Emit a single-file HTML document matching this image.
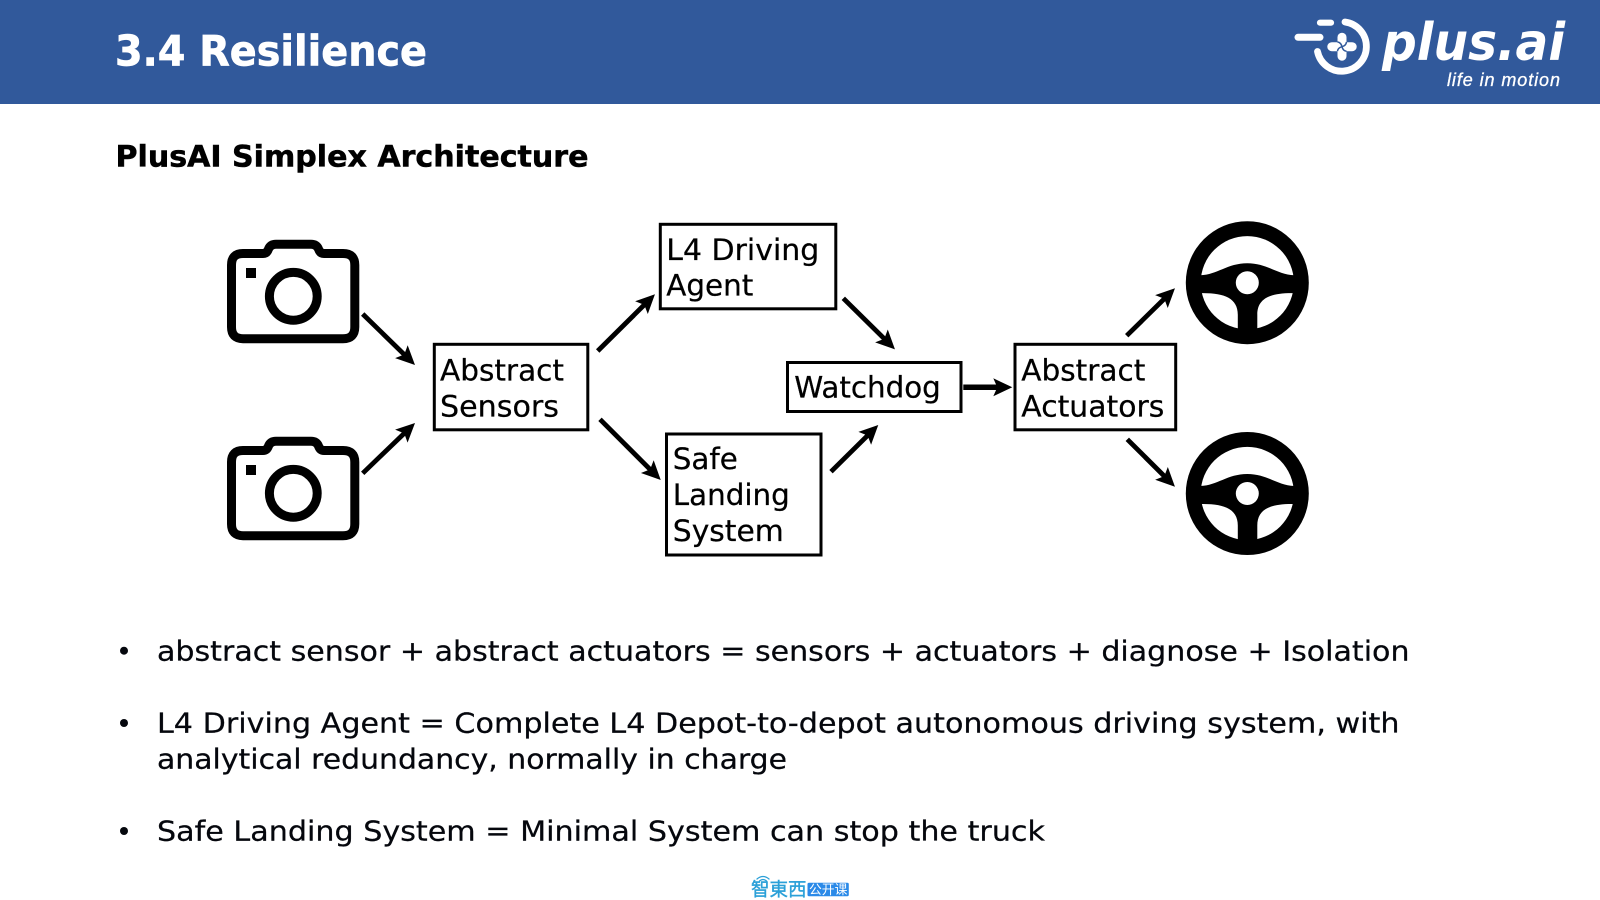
<!DOCTYPE html>
<html lang="en">
<head>
<meta charset="utf-8">
<title>3.4 Resilience</title>
<style>
html,body{margin:0;padding:0;width:1600px;height:900px;overflow:hidden;background:#fff}
svg{display:block}
text{font-family:"DejaVu Sans","Liberation Sans",sans-serif;fill:#000}
.b{font-size:29px;stroke:#000;stroke-width:.25px}
.l{font-size:28px;fill:#05070d;stroke:#05070d;stroke-width:.25px}
.box{fill:#fff;stroke:#000;stroke-width:3}
.ar{stroke:#000;stroke-width:4.8;fill:none;marker-end:url(#h)}
</style>
</head>
<body>
<svg width="1600" height="900" viewBox="0 0 1600 900" xmlns="http://www.w3.org/2000/svg">
<defs>
<marker id="h" markerUnits="userSpaceOnUse" markerWidth="36" markerHeight="36" viewBox="-24 -18 36 36" refX="0" refY="0" orient="auto">
<path d="M-13,-9 L6,0 L-13,9 L-9,0 Z" fill="#000"/>
</marker>
<g id="cam">
<path d="M243,253.500 H263 Q267,253.500 268.500,249 Q270.500,244.300 276,244.300 H311 Q316.500,244.300 318.500,249 Q320,253.500 324,253.500 H343 Q354.800,253.500 354.800,265 V327 Q354.800,338.700 343,338.700 H243 Q231.500,338.700 231.500,327 V265 Q231.500,253.500 243,253.500 Z" fill="none" stroke="#000" stroke-width="9" stroke-linejoin="round"/>
<circle cx="293.300" cy="296.300" r="23.900" fill="none" stroke="#000" stroke-width="9"/>
<rect x="246" y="268" width="10" height="10" fill="#000"/>
</g>
<g id="wheel">
<circle cx="0" cy="0" r="61.500" fill="#000"/>
<circle cx="0" cy="0" r="46.600" fill="#fff"/>
<path d="M-47,-7.500 C-30,-8 -20,-19.500 0,-19.500 C20,-19.500 30,-8 47,-7.500 L47,10.500 C24,10 10,15 10,32 L10,48 L-9.500,48 L-9.500,32 C-9.500,15 -24,10 -47,10.500 Z" fill="#000"/>
<circle cx="0" cy="0" r="11.500" fill="#fff"/>
</g>
</defs>

<!-- header -->
<rect x="0" y="0" width="1600" height="104" fill="#31599b"/>
<text x="115" y="65.700" font-size="42" font-weight="700" style="fill:#fff;stroke:#fff;stroke-width:.7px" textLength="312" lengthAdjust="spacingAndGlyphs">3.4 Resilience</text>

<!-- logo -->
<g stroke="#fff" fill="none" stroke-linecap="round">
<path d="M1345,22 A24.700,24.700 0 1 1 1317.500,51.500" stroke-width="6.800"/>
<line x1="1320" y1="22.700" x2="1331" y2="22.700" stroke-width="6.200"/>
<line x1="1298" y1="37.300" x2="1320" y2="37.300" stroke-width="7"/>
</g>
<g fill="#fff">
<rect x="1327.300" y="42.200" width="29.400" height="9" rx="4.500"/>
<rect x="1337.500" y="32.700" width="9" height="28" rx="4.500"/>
</g>
<g stroke="#31599b" stroke-width="1.500" fill="none">
<path d="M1342,46.700 Q1341,42.500 1337.500,42"/>
<path d="M1342,46.700 Q1346,45.700 1346.500,42"/>
<path d="M1342,46.700 Q1343,51 1346.500,51.200"/>
<path d="M1342,46.700 Q1338,47.700 1337.500,51.200"/>
</g>
<text x="1382" y="60" font-size="52" font-weight="700" font-style="italic" style="fill:#fff" textLength="183" lengthAdjust="spacingAndGlyphs">plus.ai</text>
<text x="1447" y="86" font-size="18" font-style="italic" style="fill:#fff;stroke:#fff;stroke-width:.3px;font-family:'Liberation Sans',sans-serif" textLength="113">life in motion</text>

<!-- subtitle -->
<text x="115.500" y="166.700" font-size="29" font-weight="700" style="stroke:#000;stroke-width:.5px" textLength="473" lengthAdjust="spacingAndGlyphs">PlusAI Simplex Architecture</text>

<!-- cameras -->
<use href="#cam"/>
<use href="#cam" y="197"/>

<!-- wheels -->
<use href="#wheel" x="1247.300" y="282.700"/>
<use href="#wheel" x="1247.300" y="493.500"/>

<!-- boxes -->
<rect class="box" x="434.300" y="344.300" width="153.500" height="85.500"/>
<text class="b" x="440" y="380.700" textLength="124" lengthAdjust="spacingAndGlyphs">Abstract</text>
<text class="b" x="440" y="416.700" textLength="119" lengthAdjust="spacingAndGlyphs">Sensors</text>

<rect class="box" x="660.300" y="224.300" width="175.500" height="84.500"/>
<text class="b" x="666.300" y="260" textLength="153" lengthAdjust="spacingAndGlyphs">L4 Driving</text>
<text class="b" x="666.300" y="295.700" textLength="87" lengthAdjust="spacingAndGlyphs">Agent</text>

<rect class="box" x="666.500" y="434" width="154.500" height="121"/>
<text class="b" x="672.800" y="469" textLength="65" lengthAdjust="spacingAndGlyphs">Safe</text>
<text class="b" x="672.800" y="505" textLength="117" lengthAdjust="spacingAndGlyphs">Landing</text>
<text class="b" x="672.800" y="541" textLength="111" lengthAdjust="spacingAndGlyphs">System</text>

<rect class="box" x="787.500" y="362.500" width="173.500" height="49"/>
<text class="b" x="794.300" y="397.700" textLength="146.500" lengthAdjust="spacingAndGlyphs">Watchdog</text>

<rect class="box" x="1015" y="344.300" width="160.700" height="85.500"/>
<text class="b" x="1021.300" y="380.700" textLength="124" lengthAdjust="spacingAndGlyphs">Abstract</text>
<text class="b" x="1021.300" y="416.700" textLength="143" lengthAdjust="spacingAndGlyphs">Actuators</text>

<!-- arrows -->
<line class="ar" x1="362.700" y1="314" x2="410.700" y2="360.800"/>
<line class="ar" x1="362.700" y1="473.300" x2="410.700" y2="427.100"/>
<line class="ar" x1="597.700" y1="351" x2="650.700" y2="298.500"/>
<line class="ar" x1="600" y1="419.300" x2="656.500" y2="475.800"/>
<line class="ar" x1="843.300" y1="298.300" x2="890.700" y2="345.100"/>
<line class="ar" x1="831" y1="471.700" x2="874" y2="429.200"/>
<line class="ar" x1="963.300" y1="387.300" x2="1006.300" y2="387.300" style="stroke-width:5.500"/>
<line class="ar" x1="1126.700" y1="335.700" x2="1170.700" y2="292.500"/>
<line class="ar" x1="1127.300" y1="439.300" x2="1170.700" y2="482.500"/>

<!-- bullets -->
<circle cx="124" cy="650.700" r="4" fill="#05070d"/>
<circle cx="124" cy="723" r="4" fill="#05070d"/>
<circle cx="124" cy="831" r="4" fill="#05070d"/>
<text class="l" x="157" y="660.700" textLength="1252.500" lengthAdjust="spacingAndGlyphs">abstract sensor + abstract actuators = sensors + actuators + diagnose + Isolation</text>
<text class="l" x="157" y="732.700" textLength="1242.500" lengthAdjust="spacingAndGlyphs">L4 Driving Agent = Complete L4 Depot-to-depot autonomous driving system, with</text>
<text class="l" x="157" y="768.300" textLength="630" lengthAdjust="spacingAndGlyphs">analytical redundancy, normally in charge</text>
<text class="l" x="157" y="840.700" textLength="888" lengthAdjust="spacingAndGlyphs">Safe Landing System = Minimal System can stop the truck</text>

<!-- watermark -->
<g fill="none" stroke="#2ba0d8" stroke-width="1.300" stroke-linecap="round">
<path d="M757,879 Q763,874 769,879"/>
<path d="M759.500,881 Q763,878 766.500,881"/>
</g>
<text x="751" y="896" font-size="18.500" style="fill:#2ba0d8;stroke:#2ba0d8;stroke-width:.4px;font-family:'Liberation Sans','Noto Sans CJK TC',sans-serif">智東西</text>
<rect x="807.500" y="882.700" width="41.300" height="13.500" rx="1.500" fill="#2b8ae8"/>
<text x="809" y="894.200" font-size="12.800" style="fill:#fff;font-family:'Liberation Sans','Noto Sans CJK SC',sans-serif">公开课</text>
</svg>
</body>
</html>
